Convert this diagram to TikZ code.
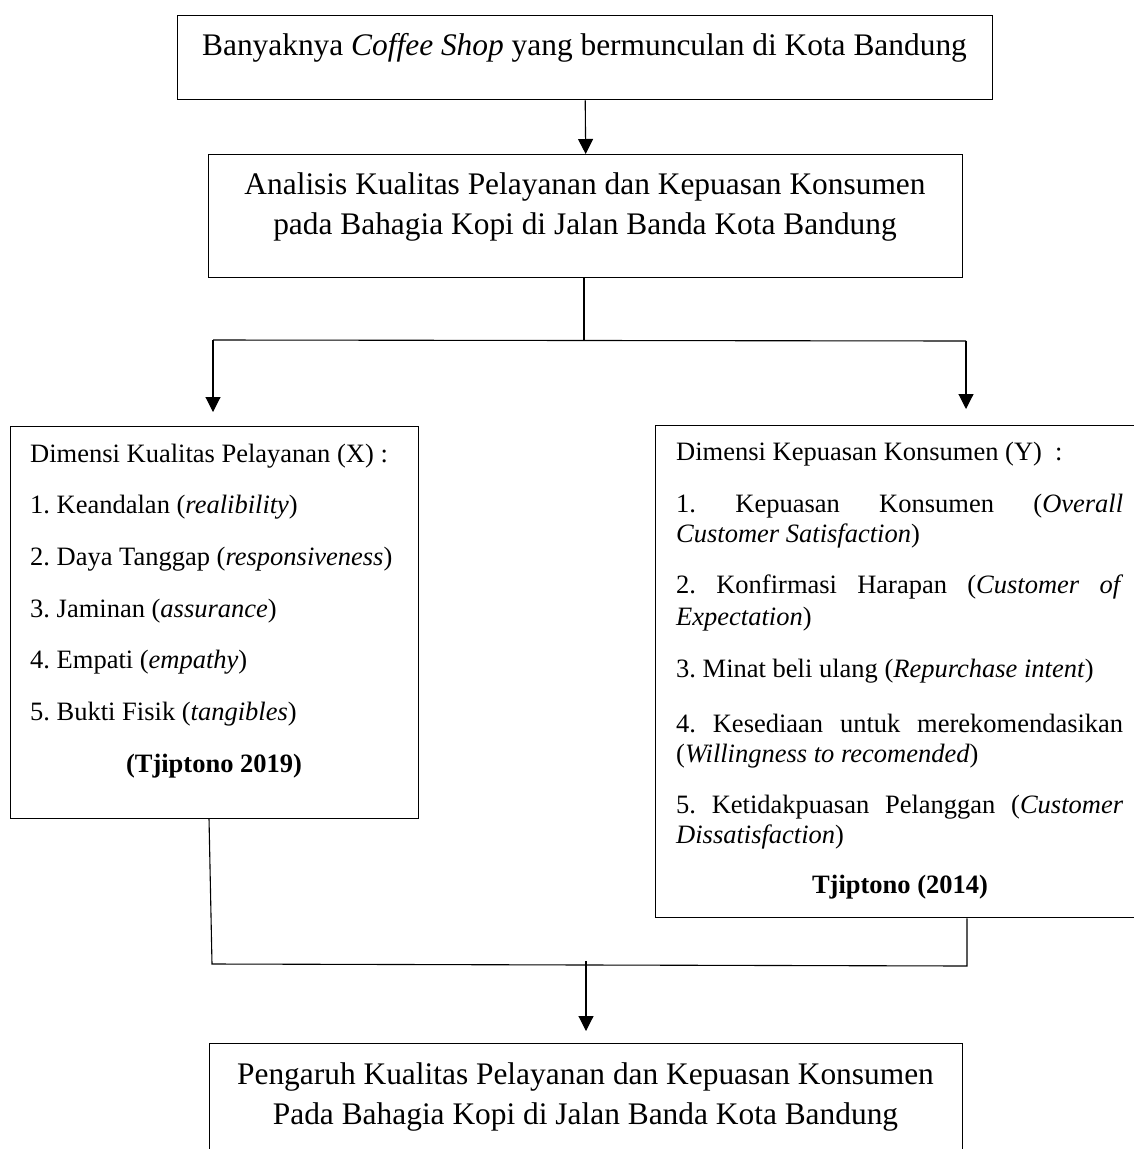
\documentclass[tikz,border=0pt]{standalone}
\usepackage{fontspec}
\setmainfont{Liberation Serif}
\usetikzlibrary{arrows.meta}
\frenchspacing
\newcommand{\bigtxt}{\fontsize{31.4}{40}\selectfont}
\newcommand{\smtxt}{\fontsize{26.5}{30.5}\selectfont}
\newcommand{\jline}[1]{\makebox[447pt][s]{#1}}
\begin{document}
\begin{tikzpicture}[x=1pt,y=-1pt,
  boxnode/.style={draw=black,line width=1.4pt,rectangle,inner sep=0pt,anchor=north west},
  bigt/.style={anchor=base,inner sep=0pt,font=\bigtxt},
  smt/.style={anchor=base west,inner sep=0pt,font=\smtxt},
  conn/.style={line width=1.1pt},
  arr/.style={line width=1.1pt,-{Triangle[width=15pt,length=15pt]}}]
\useasboundingbox (0,0) rectangle (1133,1149);
% boxes
\node[boxnode,minimum width=815pt,minimum height=84pt] (b1) at (177,15) {};
\node[boxnode,minimum width=754pt,minimum height=123pt] (b2) at (208,154) {};
\node[boxnode,minimum width=408pt,minimum height=392pt] (lb) at (10,426) {};
\node[boxnode,minimum width=500pt,minimum height=492pt] (rb) at (655,425) {};
\node[boxnode,minimum width=753pt,minimum height=123pt] (b5) at (209,1043) {};
% texts
\node[bigt] (t1) at (584.5,55) {\frenchspacing Banyaknya \textit{Coffee Shop} yang bermunculan di Kota Bandung};
\node[bigt] (t2a) at (585,194) {Analisis Kualitas Pelayanan dan Kepuasan Konsumen};
\node[bigt] (t2b) at (585,234) {pada Bahagia Kopi di Jalan Banda Kota Bandung};
\node[bigt] (t5a) at (585.5,1084) {Pengaruh Kualitas Pelayanan dan Kepuasan Konsumen};
\node[bigt] (t5b) at (585.5,1124) {Pada Bahagia Kopi di Jalan Banda Kota Bandung};
% left box
\node[smt] (l0) at (30,462) {\frenchspacing Dimensi Kualitas Pelayanan (X) :};
\node[smt] (l1) at (30,513.7) {\frenchspacing 1. Keandalan (\textit{realibility})};
\node[smt] (l2) at (30,565.4) {\frenchspacing 2. Daya Tanggap (\textit{responsiveness})};
\node[smt] (l3) at (30,617) {\frenchspacing 3. Jaminan (\textit{assurance})};
\node[smt] (l4) at (30,668.8) {\frenchspacing 4. Empati (\textit{empathy})};
\node[smt] (l5) at (30,720.5) {\frenchspacing 5. Bukti Fisik (\textit{tangibles})};
\node[smt,anchor=base] (lref) at (214,772) {\textbf{(Tjiptono 2019)}};
% right box
\node[smt] (r0) at (676,460) {\frenchspacing Dimensi Kepuasan Konsumen (Y) \ :};
\node[smt] (r1a) at (676,512) {\frenchspacing\jline{1. Kepuasan Konsumen (\textit{Overall}}};
\node[smt] (r1b) at (676,542) {\textit{Customer Satisfaction})};
\node[smt] (r2a) at (676,593) {\frenchspacing\jline{2. Konfirmasi Harapan (\textit{Customer of}}};
\node[smt] (r2b) at (676,625) {\textit{Expectation})};
\node[smt] (r3) at (676,677) {\frenchspacing 3. Minat beli ulang (\textit{Repurchase intent})};
\node[smt] (r4a) at (676,732) {\frenchspacing\jline{4. Kesediaan untuk merekomendasikan}};
\node[smt] (r4b) at (676,762) {(\textit{Willingness to recomended})};
\node[smt] (r5a) at (676,813) {\frenchspacing\jline{5. Ketidakpuasan Pelanggan (\textit{Customer}}};
\node[smt] (r5b) at (676,843) {\textit{Dissatisfaction})};
\node[smt,anchor=base] (rref) at (900,893) {\textbf{Tjiptono (2014)}};
% connectors
\coordinate (s1) at (584,341);
\coordinate (sl) at (213,340);
\coordinate (sr) at (966,341);
\coordinate (al) at (213,412);
\coordinate (ar) at (966,409);
\coordinate (bl) at (212,964);
\coordinate (br) at (967,966);
\coordinate (bm) at (586,961);
\coordinate (a5) at (586,1031);
\coordinate (lbs) at (209,818);
\draw[arr] (b1.south) -- (b2.north);
\draw[conn] (b2.south -| s1) -- (s1);
\draw[conn] (sl) -- (sr);
\draw[arr] (sl) -- (al);
\draw[arr] (sr) -- (ar);
\draw[conn] (lbs) -- (bl) -- (br) -- (rb.south -| br);
\draw[arr] (bm) -- (a5);
\end{tikzpicture}
\end{document}
